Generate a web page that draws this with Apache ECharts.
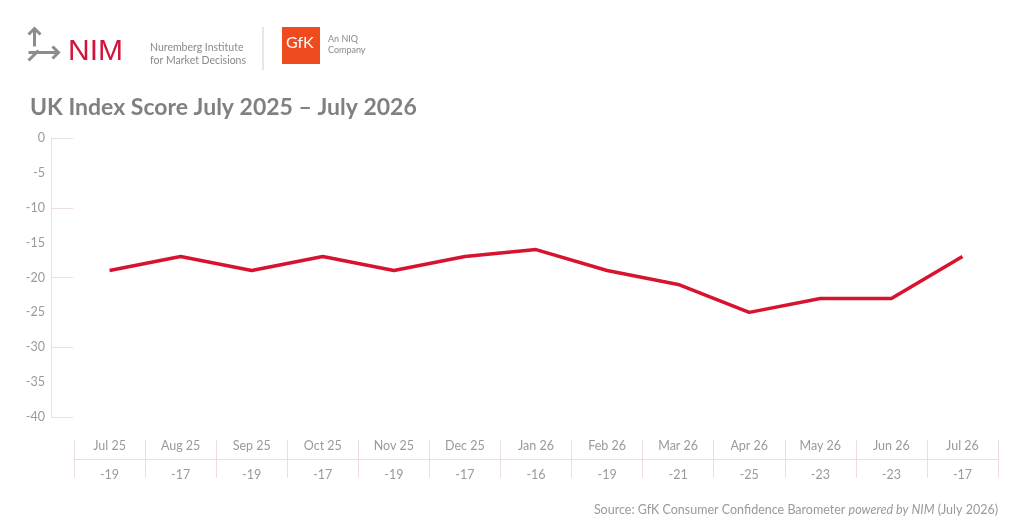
<!DOCTYPE html>
<html>
<head>
<meta charset="utf-8">
<script src="https://cdn.jsdelivr.net/npm/echarts@6/dist/echarts.min.js"></script>
<style>html,body{margin:0;padding:0;background:#fff}#c{width:1024px;height:531px}</style>
</head>
<body>
<div id="c"></div>
<script>
const categories = ['Jul 25','Aug 25','Sep 25','Oct 25','Nov 25','Dec 25','Jan 26','Feb 26','Mar 26','Apr 26','May 26','Jun 26','Jul 26'];
const indexValues = [-19,-17,-19,-17,-19,-17,-16,-19,-21,-25,-23,-23,-17];
const titleText = 'UK Index Score July 2025 \u2013 July 2026';
const yMin = -40, yMax = 0, yStep = 5, yTickStep = 10;

const font = 'Lato, "Open Sans", sans-serif';
const gray = '#9a9a9a';
const lineLight = '#ecdede';

const chart = echarts.init(document.getElementById('c'), null, {renderer: 'canvas'});
chart.setOption({
  animation: false,
  backgroundColor: '#fff',
  grid: {left: 74, right: 26, top: 138, bottom: 114, containLabel: false},
  title: {
    text: titleText, left: 25, top: 91,
    textStyle: {fontFamily: font, fontSize: 23, fontWeight: 'bold', color: '#808080'}
  },
  graphic: [
    {type: 'group', left: 26, top: 26, children: [
      {type: 'line', shape: {x1: 10, y1: 20, x2: 10, y2: 2}, style: {stroke: '#8c8c8c', lineWidth: 3}},
      {type: 'polyline', shape: {points: [[4,8],[10,2],[16,8]]}, style: {stroke: '#8c8c8c', lineWidth: 3, fill: null}},
      {type: 'line', shape: {x1: 4, y1: 26, x2: 34, y2: 26}, style: {stroke: '#8c8c8c', lineWidth: 3}},
      {type: 'polyline', shape: {points: [[28,20],[34,26],[28,32]]}, style: {stroke: '#8c8c8c', lineWidth: 3, fill: null}},
      {type: 'line', shape: {x1: 14, y1: 24, x2: 4, y2: 34}, style: {stroke: '#8c8c8c', lineWidth: 3}}
    ]},
    {type: 'text', left: 68, top: 37, style: {text: 'NIM', fontFamily: '"Liberation Sans", Arial, sans-serif', fontSize: 30, fill: '#d2143a', letterSpacing: 2}},
    {type: 'text', left: 150, top: 41, style: {text: 'Nuremberg Institute\nfor Market Decisions', fontFamily: font, fontSize: 10.5, lineHeight: 13, fill: '#8a8a8a'}},
    {type: 'line', shape: {x1: 263, y1: 27, x2: 263, y2: 70}, style: {stroke: '#cfcfcf', lineWidth: 1}},
    {type: 'rect', shape: {x: 282, y: 27, width: 38, height: 37}, style: {fill: '#f04b1e'}},
    {type: 'text', left: 286, top: 35, style: {text: 'GfK', fontFamily: font, fontSize: 16, fill: '#ffffff'}},
    {type: 'text', left: 328, top: 34, style: {text: 'An NIQ\nCompany', fontFamily: font, fontSize: 9, lineHeight: 11, fill: '#8a8a8a'}},
    {type: 'text', right: 26, top: 503, style: {
      text: '{a|Source: GfK Consumer Confidence Barometer }{b|powered by NIM}{a| (July 2026)}',
      rich: {
        a: {fontFamily: font, fontSize: 12.5, fill: '#9a9a9a'},
        b: {fontFamily: font, fontSize: 12.5, fill: '#9a9a9a', fontStyle: 'italic'}
      }
    }}
  ],
  xAxis: [
    {type: 'category', data: categories, position: 'bottom', boundaryGap: true,
     axisLine: {show: false, onZero: false}, axisTick: {show: false}, splitLine: {show: false},
     axisLabel: {interval: 0, margin: 22, color: gray, fontFamily: font, fontSize: 12.5}},
    {type: 'category', data: categories, position: 'bottom', offset: 23, boundaryGap: true,
     axisLine: {show: false, onZero: false}, axisLabel: {show: false},
     axisTick: {show: true, interval: 0, length: 38, lineStyle: {color: lineLight}}},
    {type: 'category', data: categories, position: 'bottom', offset: 42, boundaryGap: true,
     axisLine: {show: true, onZero: false, lineStyle: {color: lineLight}}, axisTick: {show: false},
     axisLabel: {interval: 0, margin: 9, color: gray, fontFamily: font, fontSize: 12.5,
       formatter: (v, i) => String(indexValues[i])}}
  ],
  yAxis: [
    {type: 'value', min: yMin, max: yMax, interval: yStep, position: 'left', offset: 23,
     axisLine: {show: true, onZero: false, lineStyle: {color: lineLight}},
     axisTick: {show: false}, splitLine: {show: false},
     axisLabel: {margin: 6, color: gray, fontFamily: font, fontSize: 12.5}},
    {type: 'value', min: yMin, max: yMax, interval: yTickStep, position: 'left', offset: 23,
     axisLine: {show: false, onZero: false}, splitLine: {show: false}, axisLabel: {show: false},
     axisTick: {show: true, inside: true, length: 22, lineStyle: {color: lineLight}}}
  ],
  series: [{
    type: 'line', data: indexValues, xAxisIndex: 0, yAxisIndex: 0, showSymbol: false,
    lineStyle: {color: '#d7132f', width: 3.5}, itemStyle: {color: '#d7132f'}
  }]
});
</script>
</body>
</html>
